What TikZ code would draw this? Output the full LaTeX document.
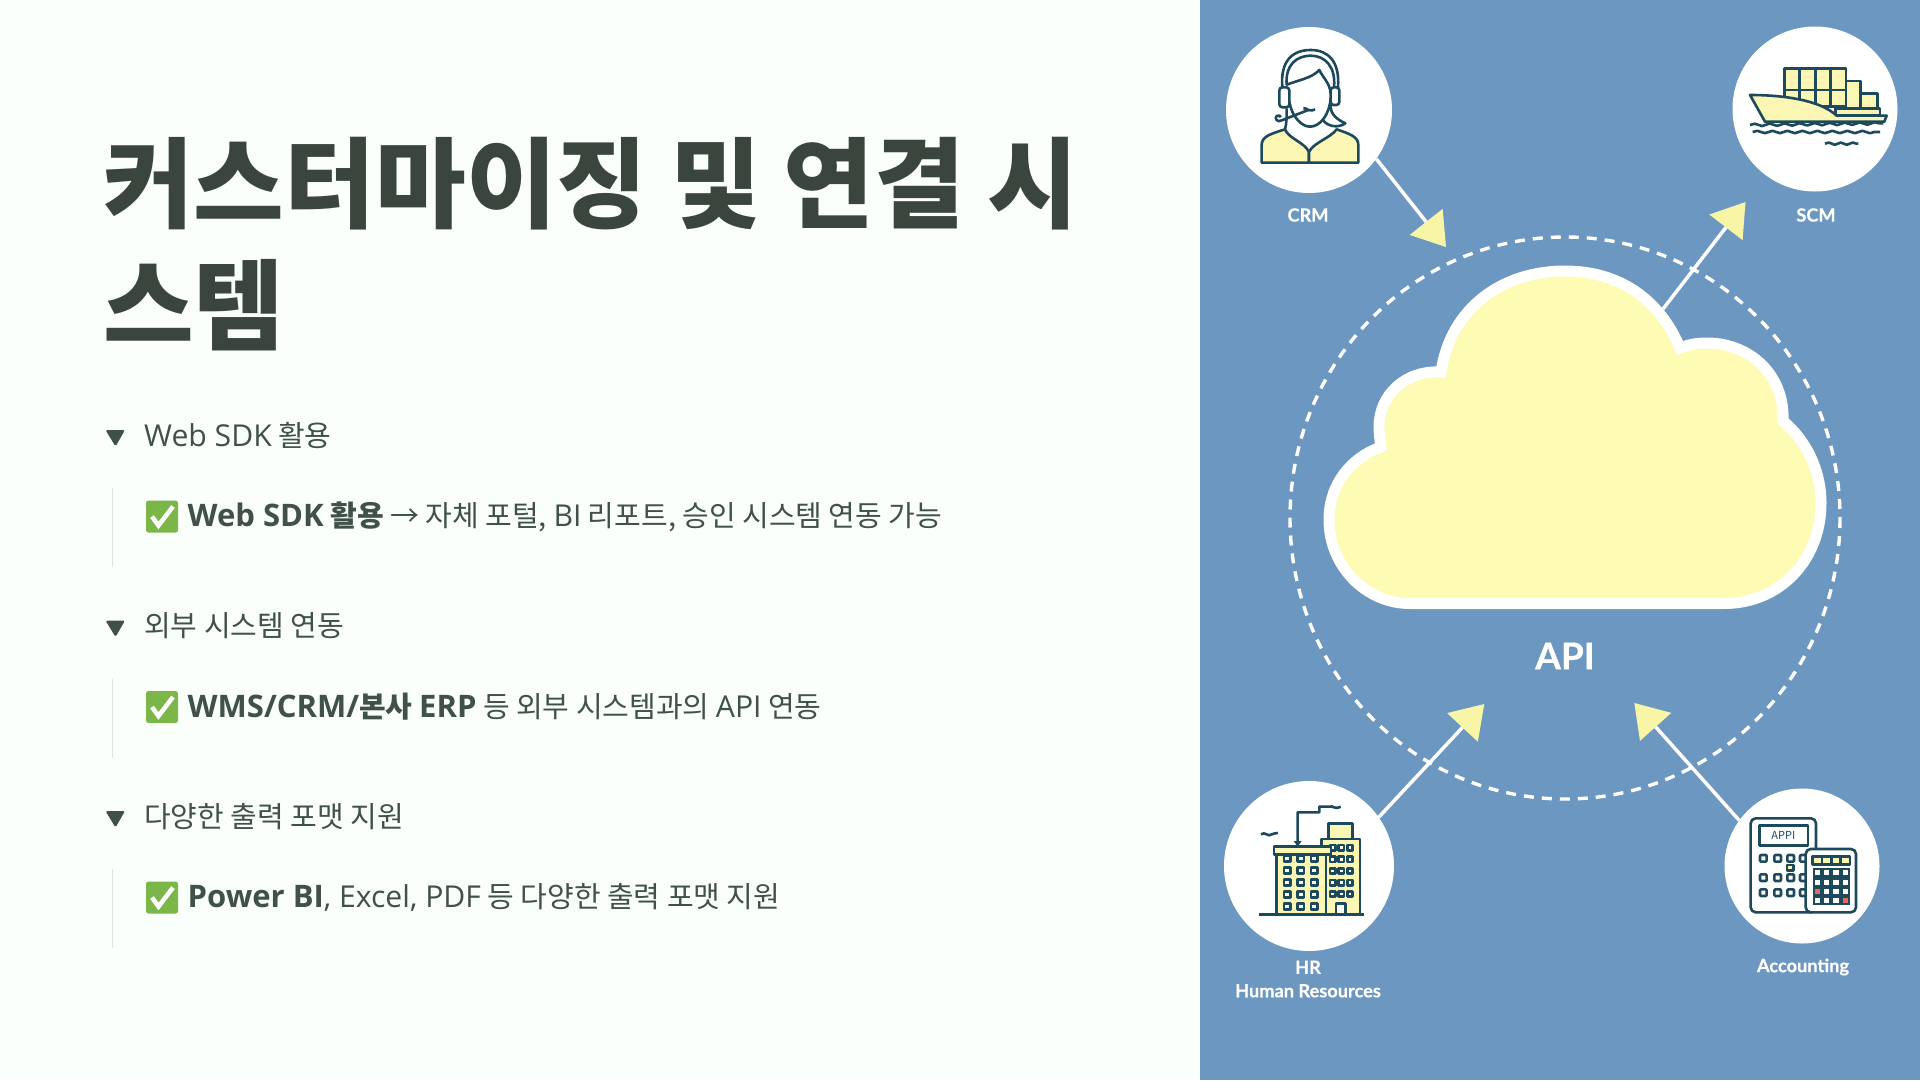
\documentclass[tikz,border=0pt]{standalone}
\usepackage{fontspec}
\usetikzlibrary{arrows.meta, decorations.pathmorphing, shapes.geometric}
\setmainfont{Noto Sans CJK KR}
\newfontfamily\latinfont[Scale=1.04, BoldFeatures={Scale=1.07}]{Open Sans}
\newfontfamily\tagfont[BoldFeatures={FakeBold=0.5}]{Lato}
\newcommand{\la}[1]{{\latinfont #1}}

\definecolor{pagebg}{HTML}{FBFFFC}
\definecolor{panelblue}{HTML}{6B97C1}
\definecolor{inkgreen}{HTML}{3F5148}
\definecolor{titleink}{HTML}{3A453E}
\definecolor{ruleline}{HTML}{E0E4E0}
\definecolor{okgreen}{HTML}{7AB648}
\definecolor{softyellow}{HTML}{FDFBB4}
\definecolor{headyellow}{HTML}{F8F6A6}
\definecolor{iconink}{HTML}{1C4A5C}
\definecolor{iconfill}{HTML}{FBF6B4}
\definecolor{keyred}{HTML}{E8685A}

\tikzset{
  headtext/.style={anchor=base west, inner sep=0pt, text=inkgreen, font=\fontsize{29}{34}\selectfont},
  itemtext/.style={anchor=base west, inner sep=0pt, text=inkgreen, font=\fontsize{29}{34}\selectfont},
  checkbox/.style={draw=none, fill=okgreen, rounded corners=2.5pt, minimum width=32pt, minimum height=32pt, inner sep=0pt},
  checkmark/.style={draw=white, line width=4.5pt},
  appnode/.style={circle, fill=white, inner sep=0pt},
  tagtext/.style={text=white, inner sep=0pt, align=center, font=\tagfont\bfseries\fontsize{18.2}{23.5}\selectfont},
  linkarrow/.style={draw=white, line width=3.5pt, -{Triangle[length=32pt, width=42pt, color=headyellow, fill=headyellow, line width=0pt]}},
  icon/.style={draw=iconink, line width=2.6pt, line join=round},
  iconyellow/.style={icon, fill=iconfill},
}

\begin{document}
\begin{tikzpicture}[x=1pt, y=-1pt]
  \useasboundingbox (0,0) rectangle (1920,1080);
  \fill[pagebg] (0,0) rectangle (1200,1080);
  \fill[panelblue] (1200,0) rectangle (1920,1080);

  % title
  \node (title) [anchor=north west, inner sep=0pt, align=left, text=titleink,
    font=\bfseries\fontsize{98.6}{122}\selectfont] at (103,137)
    {커스터마이징 및 연결 시\\스템};

  % three sections on the left
  \foreach \hd/\bd/\rest [count=\i] in {
    {\la{Web SDK} 활용}/{\la{Web SDK} 활용}/{~→ 자체 포털, \la{BI} 리포트, 승인 시스템 연동 가능},
    외부 시스템 연동/{\la{WMS/CRM/}본사 \la{ERP}}/{~등 외부 시스템과의 \la{API} 연동},
    다양한 출력 포맷 지원/{\la{Power BI}}/{\la{, Excel, PDF} 등 다양한 출력 포맷 지원}} {
    \begin{scope}[shift={(0,190.5*\i-190.5)}]
      \fill[inkgreen, rounded corners=1.5pt] (105.5,430) -- (125,430) -- (115.5,446.5) -- cycle;
      \node (head\i) [headtext] at (144,446) {\hd};
      \draw[ruleline, line width=1.6pt] (112.5,488) -- (112.5,567);
      \node (check\i) [checkbox] at (162,516.5) {};
      \draw[checkmark] ([shift={(-10,0)}]check\i.center) -- ([shift={(-3.5,9)}]check\i.center) -- ([shift={(11,-10)}]check\i.center);
      \node (item\i) [itemtext] at (187.5,526.5) {{\bfseries\bd}\rest};
    \end{scope}
  }

  % ring and cloud
  \draw[white, line width=3.4pt, dash pattern=on 10pt off 8pt] (1565,518) ellipse [x radius=275, y radius=281];
  \coordinate (cloudEdge) at (1663,309);
  \coordinate (scmEnd) at (1745.5,202);
  \draw[linkarrow] (cloudEdge) -- (scmEnd);
  \draw[white, line width=11pt, fill=softyellow, miter limit=2] (1410,603.5) -- (1724,603.5)
    .. controls (1780,603.5) and (1821,560) .. (1821,503)
    .. controls (1821,470) and (1806,440) .. (1783,421)
    .. controls (1785,375) and (1750,343) .. (1707,343)
    .. controls (1698,343) and (1690,344) .. (1680,348)
    .. controls (1660,300) and (1620,271) .. (1565,271)
    .. controls (1500,271) and (1450,310) .. (1441,372)
    .. controls (1405,370) and (1379,395) .. (1379,427)
    .. controls (1379,433) and (1380,440) .. (1381,447)
    .. controls (1350,458) and (1329,485) .. (1329,520)
    .. controls (1329,565) and (1365,603.5) .. (1410,603.5) -- cycle;
  \node (api) [text=white, inner sep=0pt, font=\tagfont\bfseries\fontsize{37}{44}\selectfont] at (1565,656) {API};

  % outer systems
  \node (crm) [appnode, minimum size=166pt] at (1309,110) {};
  \node (scm) [appnode, minimum size=165pt] at (1815,109) {};
  \node (hr) [appnode, minimum size=170pt] at (1309,866) {};
  \node (acc) [appnode, minimum size=155pt] at (1802,866) {};
  \node (crmTag) [tagtext] at (1308,215) {CRM};
  \node (scmTag) [tagtext] at (1816,215) {SCM};
  \node (hrTag) [tagtext] at (1308,979) {HR\\Human Resources};
  \node (accTag) [tagtext] at (1803,967) {Accounting};

  \coordinate (crmEnd) at (1446,247);
  \coordinate (hrEnd) at (1484.3,704);
  \coordinate (accEnd) at (1634.3,703);
  \draw[linkarrow] (crm.-36) -- (crmEnd);
  \draw[linkarrow] (hr.35) -- (hrEnd);
  \draw[linkarrow] (acc.144) -- (accEnd);

  % agent
  \begin{scope}[shift={(1240,30)}, x=0.3333pt, y=-0.3333pt]
    \draw[iconyellow] (65,398) -- (65,345) .. controls (65,320) and (90,312) .. (135,298) .. controls (145,325) and (190,335) .. (207,365) -- (207,398) -- cycle;
    \draw[iconyellow] (207,398) -- (207,365) .. controls (225,335) and (270,325) .. (290,298) .. controls (330,312) and (355,320) .. (355,345) -- (355,398) -- cycle;
    \draw[icon] (127,172) .. controls (120,90) and (160,60) .. (212,60) .. controls (265,60) and (300,95) .. (294,172);
    \draw[icon] (140,165) .. controls (135,105) and (170,77) .. (212,77) .. controls (255,77) and (288,110) .. (282,172);
    \draw[icon] (138,165) .. controls (175,150) and (215,145) .. (238,120) .. controls (250,145) and (270,160) .. (272,190);
    \draw[icon] (148,215) .. controls (155,260) and (185,290) .. (210,290) .. controls (240,290) and (268,255) .. (272,205);
    \draw[icon] (272,225) .. controls (270,255) and (295,270) .. (316,280) .. controls (295,295) and (265,290) .. (250,272);
    \draw[icon] (140,235) .. controls (140,262) and (140,280) .. (135,298);
    \draw[icon, rounded corners=3pt] (118,172) rectangle (148,232);
    \draw[icon, rounded corners=3pt] (272,172) rectangle (298,225);
    \draw[icon] (205,240) -- (128,270) .. controls (112,280) and (102,265) .. (110,258) .. controls (116,253) and (124,258) .. (122,262);
    \draw[icon] (190,235) .. controls (200,232) and (205,248) .. (225,238);
  \end{scope}

  % ship
  \begin{scope}[shift={(1740,50)}, x=0.3333pt, y=-0.3333pt]
    \foreach \cx [count=\j] in {133,180,227,272} {
      \draw[iconyellow] (\cx,55) rectangle +(46,65);
      \draw[iconyellow] (\cx,120) rectangle +(46,50);
    }
    \draw[iconyellow] (318,93) rectangle (362,178);
    \draw[iconyellow] (362,130) rectangle (413,178);
    \draw[iconyellow] (287,176) rectangle (420,195);
    \draw[iconyellow] (30,135) .. controls (130,135) and (240,150) .. (290,197) -- (440,197) -- (433,215) -- (75,215) -- cycle;
    \draw[icon, decorate, decoration={snake, amplitude=1.2pt, segment length=15pt}] (30,225) -- (430,220);
    \draw[icon, decorate, decoration={snake, amplitude=1.2pt, segment length=15pt}] (38,246) -- (420,246);
    \draw[icon, decorate, decoration={snake, amplitude=1.1pt, segment length=12pt}] (255,281) -- (355,281);
  \end{scope}

  % buildings
  \begin{scope}[shift={(1250,795)}, x=0.3333pt, y=-0.3333pt]
    \draw[iconyellow] (235,85) rectangle (307,132);
    \draw[iconyellow] (215,132) rectangle (330,358);
    \foreach \wy in {158,193,228,263,297} {
      \foreach \wx in {248,274,300} {
        \draw[icon, fill=white] (\wx-8,\wy-8) rectangle (\wx+8,\wy+8);
      }
    }
    \draw[icon, fill=white] (258,325) rectangle (287,358);
    \draw[iconyellow] (80,178) rectangle (228,358);
    \draw[iconyellow] (72,155) rectangle (243,178);
    \foreach \wy in {190,226,262,298,334} {
      \foreach \wx in {112,152,193} {
        \draw[icon, fill=white] (\wx-10,\wy-9) rectangle (\wx+10,\wy+9);
      }
    }
    \draw[icon] (28,358) -- (343,358);
    \draw[icon] (143,150) -- (143,52) -- (208,52) -- (208,35) -- (240,35) .. controls (248,30) and (252,45) .. (272,35);
    \fill[iconink] (131,138) -- (155,138) -- (143,155) -- cycle;
    \draw[icon] (33,118) .. controls (45,108) and (55,128) .. (65,118) .. controls (70,114) and (78,116) .. (84,114);
  \end{scope}

  % calculators
  \begin{scope}[shift={(1740,805)}, x=0.3333pt, y=-0.3333pt]
    \draw[icon, fill=white, rounded corners=5pt] (32,40) rectangle (228,322);
    \draw[icon] (58,62) rectangle (204,122);
    \node (appi) [inner sep=0pt, text=iconink, font=\fontsize{11}{12}\selectfont] at (130,92) {APPI};
    \foreach \ky in {160,218,263} {
      \foreach \kx in {70,113,152,190} {
        \draw[icon, fill=white, rounded corners=1pt] (\kx-10,\ky-10) rectangle (\kx+10,\ky+10);
      }
    }
    \draw[icon, fill=iconfill] (141,180) rectangle (160,197);
    \draw[icon, fill=white, rounded corners=5pt] (197,132) rectangle (348,322);
    \draw[icon, fill=iconink] (218,155) rectangle (330,178);
    \foreach \sx in {232,260,288,316} {
      \fill[iconfill] (\sx-10,160) rectangle (\sx+10,174);
    }
    \fill[iconink] (218,190) rectangle (330,300);
    \foreach \ky [count=\r] in {203,232,259,287} {
      \foreach \kx [count=\c] in {232,260,288,316} {
        \fill[white] (\kx-8,\ky-8) rectangle (\kx+8,\ky+8);
      }
    }
    \fill[keyred] (224,251) rectangle (240,267);
    \fill[keyred] (308,279) rectangle (324,295);
  \end{scope}
\end{tikzpicture}
\end{document}
